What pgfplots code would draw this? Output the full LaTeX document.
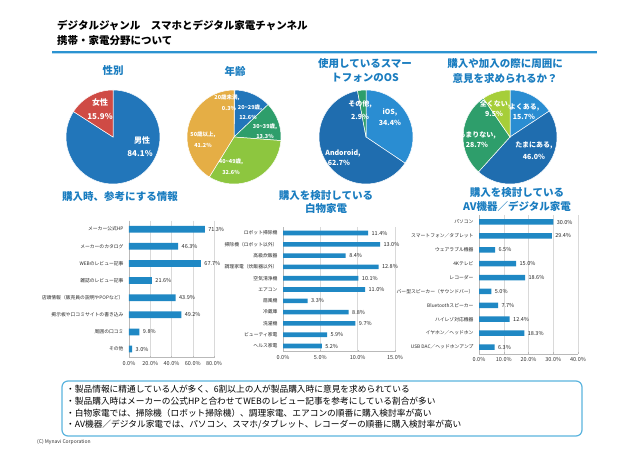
\documentclass[border=0pt]{standalone}
\usepackage{pgfplots}
\pgfplotsset{compat=1.18}
\usepgfplotslibrary{polar}
\usepackage{fontspec}
\setmainfont{Noto Sans CJK JP}
\definecolor{titleblue}{HTML}{1A7DC0}
\definecolor{barblue}{HTML}{1F88C4}
\definecolor{pblue}{HTML}{2276BA}
\definecolor{pred}{HTML}{CF4B45}
\definecolor{pgreen}{HTML}{2E9E6B}
\definecolor{plime}{HTML}{8DC63F}
\definecolor{porange}{HTML}{E5AE45}
\definecolor{plight}{HTML}{2A8DD2}
\definecolor{pdark}{HTML}{1F6DAF}
\definecolor{pyg}{HTML}{A6CE39}
\definecolor{boxblue}{HTML}{5BB4DE}
\definecolor{headblue}{HTML}{2B93D1}

\newcommand{\slice}[3]{%
  \addplot[draw=white, line width=0.5pt, fill=#3, domain={90-3.6*(#2)}:{90-3.6*(#1)}, samples=60] {1} -- (axis cs:0,0) -- cycle;}

\pgfplotsset{
  pie/.style={scale only axis, width=94pt, height=94pt, hide axis, anchor=center,
    xmin=0, xmax=360, ymin=0, ymax=1, clip=false},
  barchart/.style={
    xbar, scale only axis, anchor=south west, point meta=x,
    y dir=reverse, enlarge y limits=false,
    axis x line*=bottom, axis y line*=left, axis line style={draw=gray!55, -},
    xmajorgrids, grid style={gray!30, line width=0.4pt},
    ytick style={draw=none}, xtick style={draw=gray!55}, major tick length=2pt,
    xmin=0,
    /pgf/number format/assume math mode=true,
    xticklabel style={font=\fontsize{5.5}{6}\selectfont, text=black!80},
    yticklabel style={font=\fontsize{4.8}{5}\selectfont, text=black!85},
    xticklabel={\pgfmathprintnumber[fixed,fixed zerofill,precision=1]{\tick}\%},
    nodes near coords={\pgfmathprintnumber[fixed,fixed zerofill,precision=1]{\pgfplotspointmeta}\%},
    nodes near coords align=horizontal,
    every node near coord/.append style={font=\fontsize{5.5}{6}\selectfont, text=black!85},
  }
}

\begin{document}
\begin{tikzpicture}[x=1pt,y=1pt]
\fill[white] (0,0) rectangle (640,451);
\useasboundingbox (0,0) rectangle (640,451);

% header
\node[anchor=west, font=\bfseries\fontsize{10.5}{11}\selectfont, inner sep=0pt] at (57,426) {デジタルジャンル　スマホとデジタル家電チャンネル};
\node[anchor=west, font=\bfseries\fontsize{10.5}{11}\selectfont, inner sep=0pt] at (57,410) {携帯・家電分野について};
\fill[headblue] (52,397.5) rectangle (597,400);
\fill[headblue!35] (52,396.5) rectangle (597,397.5);

% titles
\begin{scope}[every node/.style={font=\bfseries\fontsize{10.5}{11}\selectfont, text=titleblue}]
\node at (113,380) {性別};
\node at (235,380) {年齢};
\node at (365,387) {使用しているスマー};
\node at (365,373) {トフォンのOS};
\node at (505,387) {購入や加入の際に周囲に};
\node at (505,373) {意見を求められるか？};
\node at (120,254) {購入時、参考にする情報};
\node at (326,255) {購入を検討している};
\node at (326,242) {白物家電};
\node at (517,258) {購入を検討している};
\node at (517,245) {AV機器／デジタル家電};
\end{scope}

% pies
\begin{polaraxis}[pie, at={(113pt,314pt)}]
\slice{0}{84.1}{pblue}
\slice{84.1}{100}{pred}
\end{polaraxis}
\begin{polaraxis}[pie, at={(234pt,314pt)}]
\slice{0}{0.3}{pblue}
\slice{0.3}{12.9}{pblue}
\slice{12.9}{26.2}{pgreen}
\slice{26.2}{58.8}{plime}
\slice{58.8}{100}{porange}
\end{polaraxis}
\begin{polaraxis}[pie, at={(366pt,314pt)}]
\slice{0}{34.4}{plight}
\slice{34.4}{97.1}{pdark}
\slice{97.1}{100}{pgreen}
\end{polaraxis}
\begin{polaraxis}[pie, at={(510pt,314pt)}]
\slice{0}{15.7}{plight}
\slice{15.7}{61.7}{pdark}
\slice{61.7}{90.4}{pgreen}
\slice{90.4}{100}{pyg}
\end{polaraxis}

% pie labels
\begin{scope}[every node/.style={font=\bfseries\fontsize{8}{9}\selectfont, text=white}]
\node at (100,349) {女性};
\node at (100,334) {15.9\%};
\node at (142,311) {男性};
\node at (140,297) {84.1\%};
\end{scope}
\begin{scope}[every node/.style={font=\bfseries\fontsize{5.5}{6}\selectfont, text=white, inner sep=0.5pt}]
\node at (227,353) {20歳未満,};
\node at (229,343) {0.3\%};
\node at (250,343) {20\textasciitilde29歳,};
\node at (248,334) {12.6\%};
\node at (265,324) {30\textasciitilde39歳,};
\node at (265,315) {13.3\%};
\node at (203,316) {50歳以上,};
\node at (203,306) {41.2\%};
\node at (231,289) {40\textasciitilde49歳,};
\node at (231,279) {32.6\%};
\end{scope}
\begin{scope}[every node/.style={font=\bfseries\fontsize{7}{8}\selectfont, text=white, inner sep=0.5pt}]
\node at (360,347) {その他,};
\node at (360,334) {2.9\%};
\node at (390,339) {iOS,};
\node at (390,328) {34.4\%};
\node at (343,298) {Andoroid,};
\node at (339,288) {62.7\%};
\node at (495,347) {全くない,};
\node at (494,337) {9.5\%};
\node at (524,344) {よくある,};
\node at (524,334) {15.7\%};
\node at (477,316) {あまりない,};
\node at (477,306) {28.7\%};
\node at (534,306) {たまにある,};
\node at (534,294) {46.0\%};
\end{scope}

% bar chart 1
\begin{axis}[barchart, at={(129pt,93.4pt)}, width=85pt, height=137pt, bar width=6.8pt,
  xmax=80, xtick={0,20,40,60,80}, ymin=-0.5, ymax=7.5, ytick={0,...,7},
  yticklabels={メーカー公式HP, メーカーのカタログ, WEBのレビュー記事, 雑誌のレビュー記事, 店頭情報（販売員の説明やPOPなど）, 掲示板や口コミサイトの書き込み, 周囲の口コミ, その他}]
\addplot[fill=barblue, draw=none] coordinates {(71.3,0) (46.3,1) (67.7,2) (21.6,3) (43.9,4) (49.2,5) (9.8,6) (3.0,7)};
\end{axis}

% bar chart 2
\begin{axis}[barchart, at={(283pt,99.35pt)}, width=112pt, height=124.3pt, bar width=4.6pt,
  xmax=15, xtick={0,5,10,15}, ymin=-0.5, ymax=10.5, ytick={0,...,10},
  yticklabels={ロボット掃除機, 掃除機（ロボット以外）, 高級炊飯器, 調理家電（炊飯器以外）, 空気清浄機, エアコン, 扇風機, 冷蔵庫, 洗濯機, ビューティ家電, ヘルス家電}]
\addplot[fill=barblue, draw=none] coordinates {(11.4,0) (13.0,1) (8.4,2) (12.8,3) (10.1,4) (11.0,5) (3.3,6) (8.8,7) (9.7,8) (5.9,9) (5.2,10)};
\end{axis}

% bar chart 3
\begin{axis}[barchart, at={(479pt,97.05pt)}, width=99pt, height=138.9pt, bar width=5.5pt,
  xmax=40, xtick={0,10,20,30,40}, ymin=-0.5, ymax=9.5, ytick={0,...,9},
  yticklabels={パソコン, スマートフォン／タブレット, ウェアラブル機器, 4Kテレビ, レコーダー, バー型スピーカー（サウンドバー）, Bluetoothスピーカー, ハイレゾ対応機器, イヤホン／ヘッドホン, USB DAC／ヘッドホンアンプ}]
\addplot[fill=barblue, draw=none] coordinates {(30.0,0) (29.4,1) (6.5,2) (15.0,3) (18.6,4) (5.0,5) (7.7,6) (12.4,7) (18.3,8) (6.3,9)};
\end{axis}

% summary box
\draw[boxblue, line width=1.2pt, rounded corners=6pt] (62,70) rectangle (582,15);
\begin{scope}[every node/.style={anchor=west, font=\fontsize{8.7}{9}\selectfont, inner sep=0pt}]
\node at (66,62) {・製品情報に精通している人が多く、6割以上の人が製品購入時に意見を求められている};
\node at (66,50) {・製品購入時はメーカーの公式HPと合わせてWEBのレビュー記事を参考にしている割合が多い};
\node at (66,38) {・白物家電では、掃除機（ロボット掃除機）、調理家電、エアコンの順番に購入検討率が高い};
\node at (66,26) {・AV機器／デジタル家電では、パソコン、スマホ/タブレット、レコーダーの順番に購入検討率が高い};
\end{scope}
\node[anchor=west, font=\fontsize{5}{6}\selectfont, inner sep=0pt, text=black!80] at (37,9) {(C) Mynavi Corporation};
\end{tikzpicture}
\end{document}
